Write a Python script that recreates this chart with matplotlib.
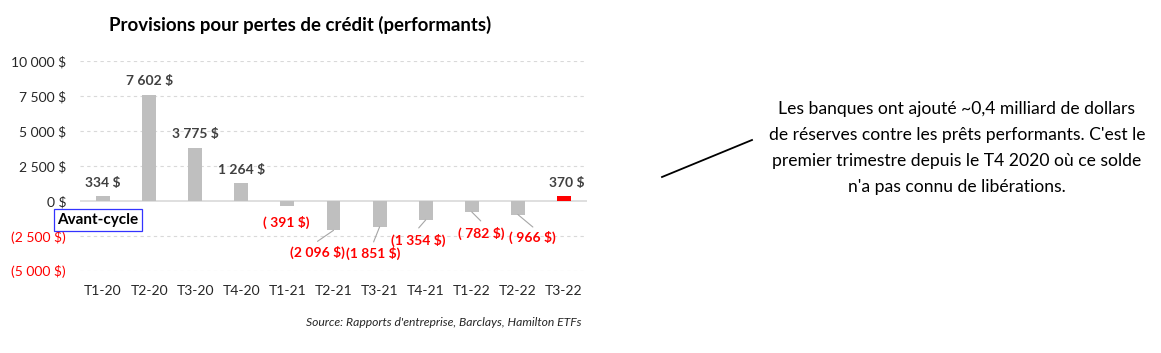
import matplotlib
matplotlib.use("Agg")
import matplotlib.pyplot as plt
from matplotlib.lines import Line2D

categories = ["T1-20", "T2-20", "T3-20", "T4-20", "T1-21", "T2-21", "T3-21",
              "T4-21", "T1-22", "T2-22", "T3-22"]
values = [334, 7602, 3775, 1264, -391, -2096, -1851, -1354, -782, -966, 370]
yticks = [-5000, -2500, 0, 2500, 5000, 7500, 10000]

title = "Provisions pour pertes de crédit (performants)"
source = "Source: Rapports d'entreprise, Barclays, Hamilton ETFs"
note = ("Les banques ont ajouté ~0,4 milliard de dollars\n"
        "de réserves contre les prêts performants. C'est le\n"
        "premier trimestre depuis le T4 2020 où ce solde\n"
        "n'a pas connu de libérations.")
box_label = "Avant-cycle"

FONT = ["Lato", "DejaVu Sans"]
plt.rcParams['font.family'] = FONT

W, H = 1161, 353
fig = plt.figure(figsize=(W / 100, H / 100), dpi=100)
ax = fig.add_axes([80 / W, 1 - 271 / H, 507 / W, 210 / H])

def fmt(v):
    s = f"{abs(int(v)):,}".replace(",", " ")
    if v < 0:
        return f"( {s} $)" if abs(v) < 1000 else f"({s} $)"
    return f"{s} $"

colors = ["#bfbfbf"] * (len(values) - 1) + ["#ff0000"]
x = list(range(len(values)))
ax.bar(x, values, width=0.3, color=colors, zorder=3)

ax.set_xlim(-0.5, len(values) - 0.5)
ax.set_ylim(-5000, 10000)
ax.set_yticks(yticks)
ax.set_yticklabels([fmt(v) for v in yticks])
ax.set_xticks(x)
ax.set_xticklabels(categories)
ax.tick_params(axis="both", length=0, labelsize=10, colors="#262626")
for lab, v in zip(ax.get_yticklabels(), yticks):
    lab.set_color("#ff0000" if v < 0 else "#262626")
ax.tick_params(axis="y", pad=10)
ax.tick_params(axis="x", pad=10)
for s in ax.spines.values():
    s.set_visible(False)
for v in yticks:
    if v != 0:
        ax.axhline(v, color="#d9d9d9", lw=0.8, ls=(0, (3, 3)), zorder=1)
ax.axhline(0, color="#d9d9d9", lw=1.2, zorder=2)

# label offsets in pixels (dx, dy downward positive) relative to bar end
lab_off = [(0, -13), (0, -13.5), (0, -14), (0, -13), (-1, 15.5), (-16, 22),
           (-6, 27), (-7, 20), (9, 21), (15, 22.5), (3, -13)]
leaders = {5: (-1, 1, -16, 11), 6: (0, 1, -6, 15), 7: (0, 1, -7, 8),
           8: (0, 0, 9, 9), 9: (0, 0, 15, 12.5)}
px = 0.72
for i, v in enumerate(values):
    dx, dy = lab_off[i]
    ax.annotate(fmt(v), xy=(i, v), xytext=(dx * px, -dy * px),
                textcoords="offset points", ha="center", va="center",
                fontsize=10, fontweight="bold",
                color="#ff0000" if v < 0 else "#404040", zorder=5)
for i, (sx, sy, ex, ey) in leaders.items():
    ax.annotate("", xy=(i, values[i]), xytext=(ex * px, -ey * px),
                textcoords="offset points",
                arrowprops=dict(arrowstyle="-", color="#a6a6a6", lw=0.8,
                                shrinkA=0, shrinkB=0))

fig.text(300 / W, 1 - 25 / H, title, ha="center", va="center",
         fontsize=13.4, fontweight="bold", color="#000000")
fig.text(582 / W, 1 - 323 / H, source, ha="right", va="center",
         fontsize=8.7, style="italic", color="#262626")
fig.text(98 / W, 1 - 220 / H, box_label, ha="center", va="center",
         fontsize=11, fontweight="bold", color="#000000",
         bbox=dict(boxstyle="square,pad=0.25", fc="white", ec="#3333ff", lw=0.9))
fig.text(957 / W, 1 - 148 / H, note, ha="center", va="center",
         fontsize=12.6, color="#000000", linespacing=1.75)
fig.add_artist(Line2D([662 / W, 752 / W], [1 - 177 / H, 1 - 140 / H],
                      transform=fig.transFigure, color="black", lw=1.3))

fig.savefig("out.png", dpi=100)
